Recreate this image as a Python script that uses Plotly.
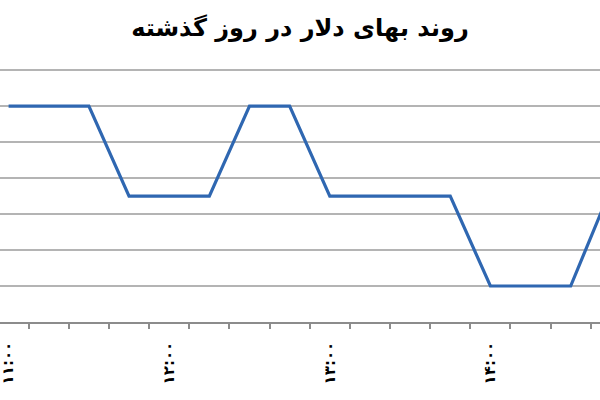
import plotly.graph_objects as go

times = ["۱۱:۰۰", "۱۱:۱۵", "۱۱:۳۰", "۱۱:۴۵",
         "۱۲:۰۰", "۱۲:۱۵", "۱۲:۳۰", "۱۲:۴۵",
         "۱۳:۰۰", "۱۳:۱۵", "۱۳:۳۰", "۱۳:۴۵",
         "۱۴:۰۰", "۱۴:۱۵", "۱۴:۳۰", "۱۴:۴۵"]
prices = [4200, 4200, 4200, 4175, 4175, 4175, 4200, 4200,
          4175, 4175, 4175, 4175, 4150, 4150, 4150, 4177]
label_every = 4

idx = list(range(len(times)))
tickvals = idx[::label_every]
ticktext = ["<b>" + t + "</b>" for t in times[::label_every]]

fig = go.Figure()
fig.add_trace(go.Scatter(x=idx, y=prices, mode="lines",
                         line=dict(color="#2F67B1", width=3.2),
                         hoverinfo="skip"))

fig.update_layout(
    width=600, height=400,
    margin=dict(l=0, r=0, t=69, b=78, autoexpand=False),
    paper_bgcolor="white", plot_bgcolor="white",
    showlegend=False,
    title=dict(text="<b>روند بهای دلار در روز گذشته</b>", x=0.5, xanchor="center",
               y=0.93, yanchor="middle", automargin=False,
               font=dict(family="DejaVu Sans", size=24, color="black")),
    xaxis=dict(range=[-0.214, 14.73], tickmode="array", tickvals=tickvals,
               ticktext=ticktext, tickangle=-90, ticks="", ticklabelstandoff=12,
               ticklabeloverflow="allow",
               showgrid=False, zeroline=False, automargin=False,
               showline=True, linecolor="#8C8C8C", linewidth=1.5,
               tickfont=dict(family="DejaVu Sans", size=15, color="black"),
               minor=dict(ticks="outside", tick0=-0.5, dtick=1, ticklen=5,
                          tickcolor="#8C8C8C", tickwidth=1.5, showgrid=False)),
    yaxis=dict(range=[4140, 4210.3], dtick=10, tick0=4140, showticklabels=False,
               showgrid=True, gridcolor="#B4B4B4", gridwidth=1.5, automargin=False,
               zeroline=False, showline=False, ticks=""),
)

fig.write_html("out.html", config={"displayModeBar": False},
               post_script="document.body.style.margin='0';document.body.style.overflow='hidden';")
